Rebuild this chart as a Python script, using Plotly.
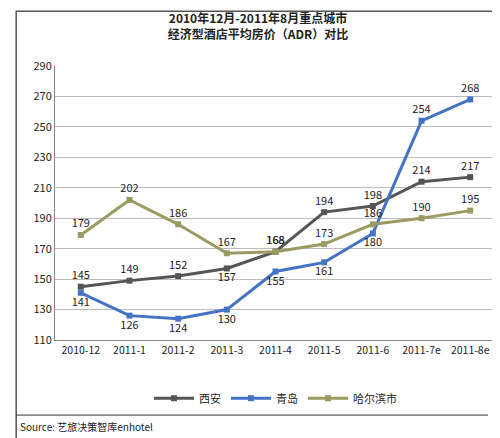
import plotly.graph_objects as go

categories = ["2010-12","2011-1","2011-2","2011-3","2011-4","2011-5","2011-6","2011-7e","2011-8e"]
xian = [145,149,152,157,168,194,198,214,217]
qingdao = [141,126,124,130,155,161,180,254,268]
harbin = [179,202,186,167,168,173,186,190,195]
y_ticks = [110,130,150,170,190,210,230,250,270,290]

series = [
    ("西安", xian, "#555555", ["top center"]*3+["bottom center"]+["top center"]*5),
    ("青岛", qingdao, "#4472C4", ["bottom center"]*7+["top center"]*2),
    ("哈尔滨市", harbin, "#9A9A62", ["top center"]*9),
]
fig = go.Figure()
for name, vals, col, pos in series:
    fig.add_trace(go.Scatter(x=categories, y=vals, name=name, mode="lines+markers+text",
        line=dict(color=col, width=3), marker=dict(symbol="square", size=6, color=col),
        text=[str(v) for v in vals], textposition=pos,
        textfont=dict(size=11, color="#222")))

fig.update_layout(
    width=500, height=438, paper_bgcolor="white", plot_bgcolor="white",
    font=dict(family="Noto Sans CJK SC, sans-serif", color="#222", size=11),
    margin=dict(l=47, r=12, t=58, b=106),
    title=dict(text="<b>2010年12月-2011年8月重点城市</b><br><b>经济型酒店平均房价（ADR）对比</b>",
               x=0.5, xanchor="center", y=0.965, yanchor="top", font=dict(size=12)),
    xaxis=dict(type="category", showgrid=False, showline=True, linecolor="#888",
               tickfont=dict(size=10.5), ticks=""),
    yaxis=dict(range=[110,290], tickvals=y_ticks, showgrid=True, gridcolor="#BBBBBB",
               showline=True, linecolor="#888", tickfont=dict(size=11), zeroline=False),
    legend=dict(orientation="h", x=0.5, xanchor="center", y=-0.16, yanchor="top",
                font=dict(size=11), itemwidth=40),
    showlegend=True,
)
fig.add_shape(type="rect", xref="paper", yref="paper", x0=-0.088, x1=1.009, y0=-0.365, y1=1.2,
              line=dict(color="#555", width=1.5))
fig.add_shape(type="line", xref="paper", yref="paper", x0=-0.088, x1=0.982, y0=-0.274, y1=-0.274,
              line=dict(color="#333", width=1))
fig.add_annotation(text="Source: 艺旅决策智库enhotel", xref="paper", yref="paper", x=-0.085, y=-0.28,
                   xanchor="left", yanchor="top", showarrow=False, font=dict(size=10))
fig.write_html("out.html")
